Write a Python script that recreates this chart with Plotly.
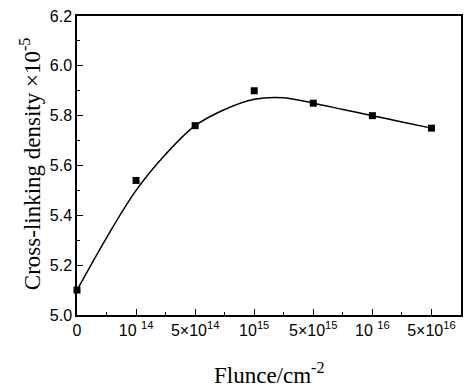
import plotly.graph_objects as go

# Data
fluence_labels = ["0", "10 <sup>14</sup>", "5×10<sup>14</sup>", "10<sup>15</sup>",
                  "5×10<sup>15</sup>", "10 <sup>16</sup>", "5×10<sup>16</sup>"]
fluence_pos = [0, 1, 2, 3, 4, 5, 6]
density = [5.10, 5.54, 5.76, 5.90, 5.85, 5.80, 5.75]

# Fitted curve
curve_x = [0, 0.5, 1, 1.5, 2, 2.5, 3, 3.5, 4, 4.5, 5, 5.5, 6]
curve_y = [5.10, 5.31, 5.50, 5.645, 5.76, 5.825, 5.866, 5.872, 5.85, 5.825, 5.80, 5.775, 5.75]

fig = go.Figure()
fig.add_trace(go.Scatter(x=curve_x, y=curve_y, mode="lines",
                         line=dict(color="black", width=1.5, shape="spline", smoothing=1.0),
                         showlegend=False, hoverinfo="skip"))
fig.add_trace(go.Scatter(x=fluence_pos, y=density, mode="markers",
                         marker=dict(symbol="square", size=7, color="black"),
                         showlegend=False, cliponaxis=False))

fig.update_layout(
    width=467, height=391,
    margin=dict(l=77, r=4, t=16, b=76),
    paper_bgcolor="white", plot_bgcolor="white",
    font=dict(family="Liberation Sans, Arial", size=16, color="black"),
)
fig.update_xaxes(
    range=[0, 6.5], tickvals=fluence_pos, ticktext=fluence_labels,
    showgrid=False, zeroline=False, showline=True, linecolor="black", linewidth=1.5,
    mirror=True, ticks="inside", ticklen=6, tickwidth=1, tickcolor="black",
    minor=dict(dtick=0.5, tick0=0, ticks="inside", ticklen=3, tickcolor="black", showgrid=False),
    tickfont=dict(size=16),
)
fig.update_yaxes(
    range=[5.0, 6.2], dtick=0.2, tick0=5.0, tickformat=".1f",
    showgrid=False, zeroline=False, showline=True, linecolor="black", linewidth=1.5,
    mirror=True, ticks="inside", ticklen=6, tickwidth=1, tickcolor="black",
    minor=dict(dtick=0.1, ticks="inside", ticklen=3, tickcolor="black", showgrid=False),
    tickfont=dict(size=16),
)
fig.add_annotation(text="Cross-linking density ×10<sup>-5</sup>", xref="paper", yref="paper",
                   x=-0.122, y=0.505, xanchor="center", yanchor="middle", textangle=-90,
                   showarrow=False, font=dict(family="Liberation Serif, Times New Roman", size=23))
fig.add_annotation(text="Flunce/cm<sup>-2</sup>", xref="paper", yref="paper",
                   x=0.5, y=-0.197, xanchor="center", yanchor="middle",
                   showarrow=False, font=dict(family="Liberation Serif, Times New Roman", size=23))

fig.write_html("out.html")
